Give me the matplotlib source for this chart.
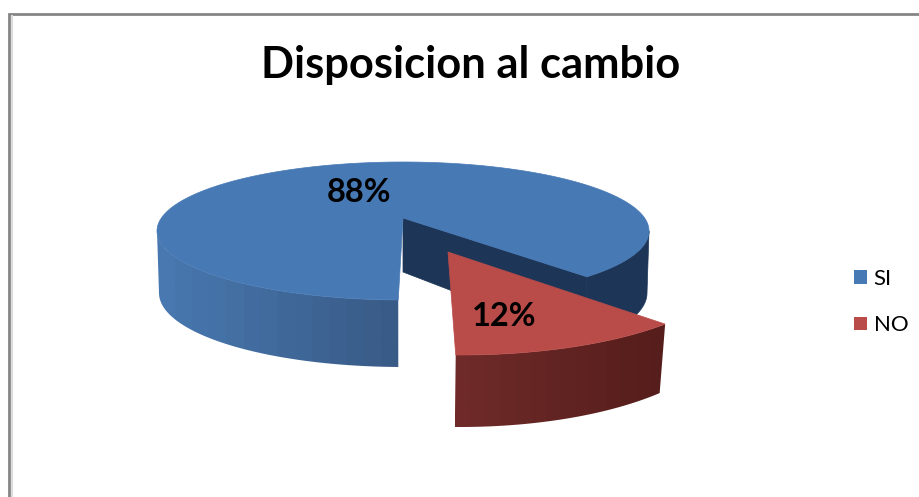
import numpy as np
import matplotlib
matplotlib.use("Agg")
import matplotlib.pyplot as plt
from matplotlib.patches import Patch, Polygon
from matplotlib.colors import LinearSegmentedColormap

title = "Disposicion al cambio"
categories = ["SI", "NO"]
shares = [88, 12]

# layout of the 3D look (pixel coordinates)
BLUE_TOP = dict(cx=403, cy=231, rx=246, ry=69, ax=403, ay=218)
BLUE_BOT = dict(cx=403, cy=293, rx=244, ry=74, ax=403, ay=272)
RED_TOP = dict(cx=461, cy=263, rx=273, ry=92, ax=448, ay=252)
RED_BOT = dict(cx=460, cy=326, rx=267, ry=101)
START = 41.6      # rim angle where the NO slice begins
PERSP = 1.146     # foreshortening of the near slice

no_sweep = 360 * shares[1] / sum(shares) * PERSP
blue_sweep = 360 - no_sweep
t_no = np.linspace(START, START + no_sweep, 60)
t_si = np.linspace(START + no_sweep, START + no_sweep + blue_sweep, 300)


def rim(e, t):
    r = np.radians(t)
    return e["cx"] + e["rx"] * np.cos(r), e["cy"] + e["ry"] * np.sin(r)


def wall_poly(top, bot, t):
    xt, yt = rim(top, t)
    xb, yb = rim(bot, t)
    return np.c_[np.r_[xt, xb[::-1]], np.r_[yt, yb[::-1]]]


def shaded(ax, poly, c_left, c_right, z):
    """Fill a polygon with a left-to-right shade."""
    cmap = LinearSegmentedColormap.from_list("w", [c_left, c_right], N=14)
    x0, x1 = poly[:, 0].min(), poly[:, 0].max()
    y0, y1 = poly[:, 1].min(), poly[:, 1].max()
    im = ax.imshow(np.linspace(0, 1, 256)[None, :], cmap=cmap, aspect="auto",
                   extent=(x0, x1, y1, y0), zorder=z, interpolation="bilinear")
    clip = Polygon(poly, closed=True, transform=ax.transData, facecolor="none", edgecolor="none")
    ax.add_patch(clip)
    im.set_clip_path(clip)


fig = plt.figure(figsize=(9.2, 4.97), dpi=100, facecolor="white")
ax = fig.add_axes([0, 0, 1, 1])
ax.axis("off")

# frame
ax.plot([9.5, 9.5, 920], [497, 13.5, 13.5], color="#858585", lw=2.0,
        solid_joinstyle="miter", zorder=1)
ax.plot([12, 12], [497, 16], color="#dcdcdc", lw=1.5, zorder=1)

BLUE = "#4779b5"
RED = "#b94c49"
NAVY = "#1d3658"

# navy inner face of the blue slice
xr, yr = rim(BLUE_TOP, START)
xb, yb = rim(BLUE_BOT, START)
ax.fill([BLUE_TOP["ax"], xr, xb, BLUE_BOT["ax"]],
        [BLUE_TOP["ay"], yr, yb, BLUE_BOT["ay"]],
        color=NAVY, lw=0.5, zorder=2)

# navy back-right wall
ax.add_patch(Polygon(wall_poly(BLUE_TOP, BLUE_BOT, np.linspace(0, START, 50)),
                     closed=True, facecolor=NAVY, edgecolor=NAVY, lw=0.5, zorder=2))

# front wall of the blue slice
t_wall = np.linspace(START + no_sweep, 180, 90)
shaded(ax, wall_poly(BLUE_TOP, BLUE_BOT, t_wall), "#4878b0", "#395b87", 3)

# blue top
xs, ys = rim(BLUE_TOP, t_si)
ax.fill(np.r_[BLUE_TOP["ax"], xs], np.r_[BLUE_TOP["ay"], ys], color=BLUE, lw=0.5, zorder=4)

# red wall and top
shaded(ax, wall_poly(RED_TOP, RED_BOT, t_no), "#6e2a28", "#561e1c", 5)
xs, ys = rim(RED_TOP, t_no)
ax.fill(np.r_[RED_TOP["ax"], xs], np.r_[RED_TOP["ay"], ys], color=RED, lw=0.5, zorder=6)

# texts
ax.text(471, 65, title, family="Lato", weight="bold", fontsize=31.3,
        ha="center", va="center", color="black", zorder=8)
ax.text(359, 192, f"{shares[0]}%", family="Lato", weight="bold", fontsize=23.5,
        ha="center", va="center", color="black", zorder=8)
ax.text(504, 317, f"{shares[1]}%", family="Lato", weight="bold", fontsize=23.5,
        ha="center", va="center", color="black", zorder=8)

# legend
handles = [Patch(facecolor=BLUE, edgecolor="none"), Patch(facecolor=RED, edgecolor="none")]
ax.legend(handles, categories, loc="center left", bbox_to_anchor=(854 / 920, 1 - 302 / 497),
          frameon=False, prop=dict(family="Lato", size=16), handlelength=0.58,
          handleheight=0.58, handletextpad=0.3, labelspacing=1.2,
          borderpad=0, borderaxespad=0)

ax.set_xlim(0, 920)
ax.set_ylim(497, 0)
fig.savefig("out.png", dpi=100)
